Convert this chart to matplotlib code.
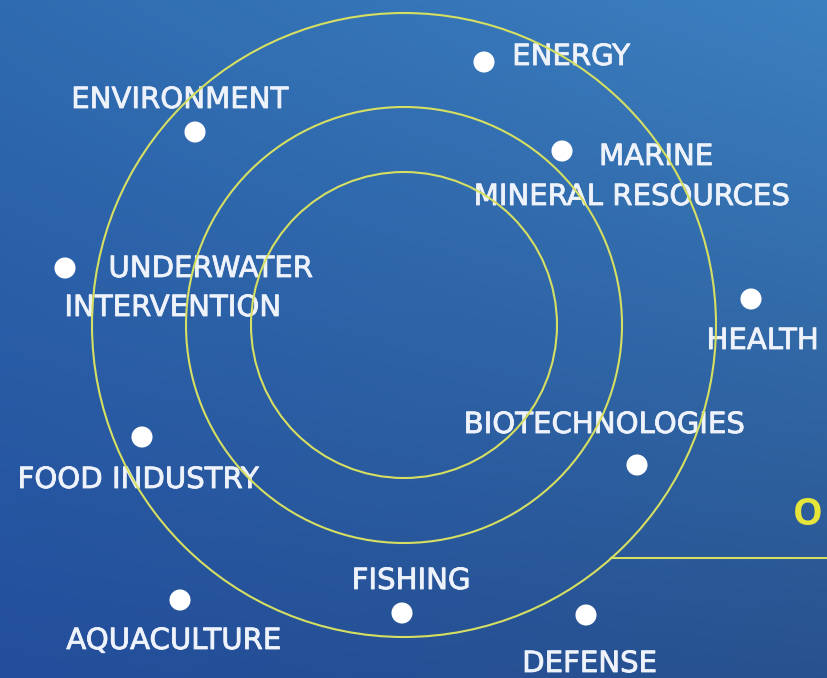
import numpy as np
import matplotlib
matplotlib.use("Agg")
import matplotlib.pyplot as plt
import matplotlib.patheffects as pe
from matplotlib.patches import Circle

# Data
sectors = ["ENERGY", "ENVIRONMENT", "MARINE\nMINERAL RESOURCES", "UNDERWATER\nINTERVENTION",
           "HEALTH", "BIOTECHNOLOGIES", "FOOD INDUSTRY", "FISHING", "AQUACULTURE", "DEFENSE"]
dot_x = [484, 195, 562, 65, 751, 637, 142, 402, 180, 586]
dot_y = [62, 132, 151, 268, 299, 465, 437, 613, 600, 615]

label_lines = [("ENERGY", 571, 57), ("ENVIRONMENT", 179.5, 100), ("MARINE", 656, 157),
               ("MINERAL RESOURCES", 631.5, 197), ("UNDERWATER", 210.5, 269),
               ("INTERVENTION", 172.5, 308), ("HEALTH", 762.5, 341),
               ("BIOTECHNOLOGIES", 604, 425), ("FOOD INDUSTRY", 138, 480),
               ("FISHING", 411, 581), ("AQUACULTURE", 173.5, 641), ("DEFENSE", 589.5, 664)]
ring_radii = [312, 218, 153]
center = (404, 325)

W, H = 828, 678
fig = plt.figure(figsize=(W / 100, H / 100), dpi=100)
ax = fig.add_axes([0, 0, 1, 1])
ax.set_xlim(0, W)
ax.set_ylim(H, 0)
ax.axis("off")

# background gradient (bilinear between corner colours)
tl = np.array([47, 107, 176]) / 255
tr = np.array([60, 128, 192]) / 255
bl = np.array([35, 78, 156]) / 255
br = np.array([40, 82, 142]) / 255
u = np.linspace(0, 1, 200)[None, :, None]
v = np.linspace(0, 1, 200)[:, None, None]
img = (1 - v) * ((1 - u) * tl + u * tr) + v * ((1 - u) * bl + u * br)
ax.imshow(img, extent=[0, W, H, 0], aspect="auto", zorder=0, interpolation="bilinear")

font = "DejaVu Sans"
for txt, x, y in label_lines:
    ax.text(x, y, txt, ha="center", va="center", color="#eef2fa", fontsize=21,
            family=font, zorder=2,
            path_effects=[pe.withStroke(linewidth=0.6, foreground="#eef2fa")])

ax.text(793, 515, "O", ha="left", va="center", color="#e6e63a", fontsize=27,
        family="Open Sans", weight="bold", zorder=2)

ring_color = "#d6df62"
for r in ring_radii:
    ax.add_patch(Circle(center, r, fill=False, ec=ring_color, lw=1.5, zorder=3))
# connector line from outer ring to right edge
yline = 558
dx = np.sqrt(ring_radii[0] ** 2 - (yline - center[1]) ** 2)
ax.plot([center[0] + dx, W], [yline, yline], color=ring_color, lw=1.5, zorder=3)

ax.scatter(dot_x, dot_y, s=230, color="white", zorder=4, edgecolors="none")

fig.savefig("out.png", dpi=100)
